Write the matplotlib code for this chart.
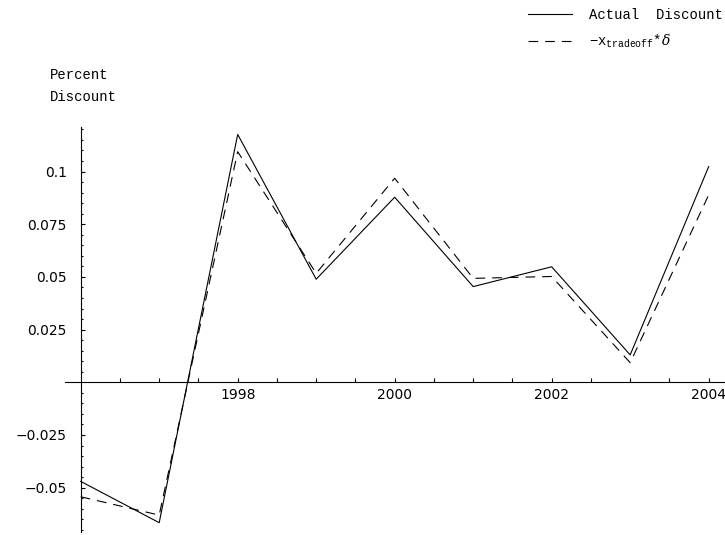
import numpy as np
import matplotlib
matplotlib.use("Agg")
from matplotlib import pyplot as plt
from matplotlib.ticker import FixedLocator, FixedFormatter

# values
years = [1996, 1997, 1998, 1999, 2000, 2001, 2002, 2003, 2004]
actual = [-0.047, -0.0666, 0.1176, 0.0489, 0.0878, 0.0454, 0.0548, 0.0130, 0.1023]
tradeoff = [-0.0543, -0.063, 0.1094, 0.0517, 0.0968, 0.0493, 0.0502, 0.0093, 0.0889]

x_major = [1998, 2000, 2002, 2004]
x_labels = ["1998", "2000", "2002", "2004"]
y_major = [-0.05, -0.025, 0.025, 0.05, 0.075, 0.1]
y_labels = ["\u22120.05", "\u22120.025", "0.025", "0.05", "0.075", "0.1"]

plt.rcParams["mathtext.fontset"] = "custom"
plt.rcParams["mathtext.tt"] = "Liberation Mono"
plt.rcParams["mathtext.rm"] = "Liberation Mono"
plt.rcParams["mathtext.it"] = "DejaVu Serif:italic"
plt.rcParams["lines.scale_dashes"] = False

MONO = "Liberation Mono"

fig = plt.figure(figsize=(7.25, 5.35), dpi=100)
ax = fig.add_axes([0, 0, 1, 1])
ax.patch.set_visible(False)

ax.plot(years, actual, color="black", lw=0.8, label="Actual  Discount")
ax.plot(years, tradeoff, color="black", lw=0.8, dashes=(7, 5),
        label=r"$-\mathtt{x}_{\mathtt{tradeoff}}{*}\mathit{\delta}$")

ax.set_xlim(1994.972, 2004.208)
ax.set_ylim(-0.07244, 0.18136)

# axes crossing Mathematica style
for s in ["top", "right"]:
    ax.spines[s].set_visible(False)
ax.spines["left"].set_position(("data", 1996))
ax.spines["bottom"].set_position(("data", 0))
ax.spines["left"].set_bounds(-0.071, 0.1212)
ax.spines["bottom"].set_bounds(1995.8, 2004.21)
ax.spines["left"].set_linewidth(0.8)
ax.spines["bottom"].set_linewidth(0.8)

ax.xaxis.set_major_locator(FixedLocator(x_major))
ax.xaxis.set_major_formatter(FixedFormatter(x_labels))
ax.xaxis.set_minor_locator(FixedLocator([v for v in np.arange(1996.5, 2004.1, 0.5) if v not in x_major]))
ax.yaxis.set_major_locator(FixedLocator(y_major))
ax.yaxis.set_major_formatter(FixedFormatter(y_labels))
ax.yaxis.set_minor_locator(FixedLocator([v for v in np.arange(-0.07, 0.1201, 0.005)
                                         if min(abs(v - m) for m in y_major + [0]) > 1e-6]))

ax.tick_params(axis="x", which="both", direction="in", length=3, width=0.8,
               labelsize=10, pad=4)
ax.tick_params(axis="y", which="major", direction="in", length=3, width=0.8,
               labelsize=10, pad=10)
ax.tick_params(axis="y", which="minor", direction="in", length=1.6, width=0.8)

fig.text(50 / 725, 1 - 86 / 535, "Percent\nDiscount", family=MONO, fontsize=10,
         ha="left", va="center", linespacing=1.65)

leg = ax.legend(loc="upper right", bbox_to_anchor=(723 / 725, 1 - 8 / 535),
                frameon=False, prop={"family": MONO, "size": 10},
                handlelength=3.2, handletextpad=1.2, labelspacing=0.75,
                borderpad=0, borderaxespad=0)

fig.savefig("out.png", dpi=100)
